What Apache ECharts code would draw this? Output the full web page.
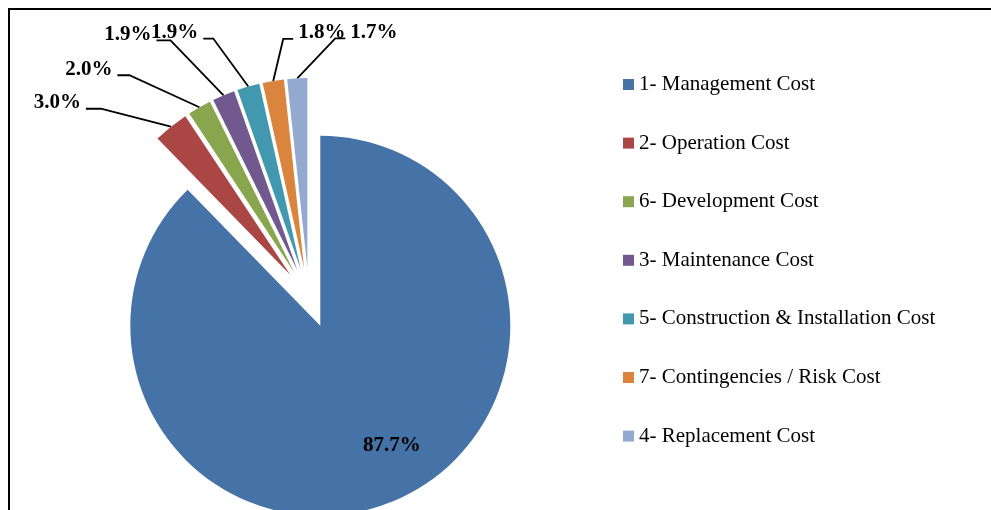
<!DOCTYPE html>
<html>
<head>
<meta charset="utf-8">
<script src="https://cdn.jsdelivr.net/npm/echarts@6/dist/echarts.min.js"></script>
<style>
html,body{margin:0;padding:0;background:#fff;}
#chart{width:991px;height:510px;}
</style>
</head>
<body>
<div id="chart"></div>
<script>
// ---- data ----
var categories = [
  "1- Management Cost",
  "2- Operation Cost",
  "6- Development Cost",
  "3- Maintenance Cost",
  "5- Construction & Installation Cost",
  "7- Contingencies / Risk Cost",
  "4- Replacement Cost"
];
var values = [87.7, 3.0, 2.0, 1.9, 1.9, 1.8, 1.7];
var colors = ["#4572A7", "#AA4643", "#89A54E", "#71588F", "#4198AF", "#DB843D", "#93A9CF"];

// ---- label placement style (elbow offset from slice anchor, horizontal run) ----
var EXPLODE = 30;
var labelElbow = [null, [-70, -18], [-70, -32], [-53, -55], [-35, -48], [10, -42], [38, -40]];
var labelRun = [0, -15, -12, -14, -10, 10, 10];
var innerShift = [46, 57];

var chart = echarts.init(document.getElementById('chart'));
var FONT = '"Liberation Serif", "Times New Roman", serif';
var CENTER = [309, 298];
var RADIUS = 190;

var labelStyle = {
  show: true,
  position: 'outside',
  formatter: function (p) { return p.value.toFixed(1) + '%'; },
  fontFamily: FONT,
  fontSize: 21,
  fontWeight: 'bold',
  color: '#000'
};

var option = {
  animation: false,
  backgroundColor: '#fff',
  color: colors,
  graphic: [{
    type: 'rect',
    shape: { x: 9, y: 9, width: 1100, height: 700 },
    style: { fill: 'none', stroke: '#000', lineWidth: 2 },
    silent: true
  }],
  legend: {
    orient: 'vertical',
    left: 623,
    top: 74,
    padding: 0,
    itemWidth: 11,
    itemHeight: 11,
    itemGap: 37.6,
    icon: 'rect',
    selectedMode: false,
    textStyle: { fontFamily: FONT, fontSize: 21, color: '#000' },
    data: categories
  },
  series: [{
    // exploded slices
    type: 'pie',
    center: CENTER,
    radius: RADIUS,
    startAngle: 90,
    clockwise: true,
    selectedMode: 'multiple',
    selectedOffset: EXPLODE,
    avoidLabelOverlap: false,
    emphasis: { disabled: true },
    label: { show: false },
    labelLine: { show: false },
    data: categories.map(function (c, i) {
      return { name: c, value: values[i], selected: true };
    })
  }, {
    // label carrier (transparent, same geometry)
    type: 'pie',
    center: CENTER,
    radius: RADIUS,
    startAngle: 90,
    clockwise: true,
    silent: true,
    avoidLabelOverlap: false,
    emphasis: { disabled: true },
    itemStyle: { color: 'rgba(0,0,0,0)' },
    label: labelStyle,
    labelLine: {
      show: true,
      length: 10,
      length2: 10,
      lineStyle: { color: '#000', width: 1.8 }
    },
    labelLayout: function (p) {
      var i = p.dataIndex;
      var pts = p.labelLinePoints;
      if (i === 0) {
        return { dx: innerShift[0], dy: innerShift[1] };
      }
      var a0 = pts[0], b0 = pts[1];
      var vx = b0[0] - a0[0], vy = b0[1] - a0[1];
      var len = Math.sqrt(vx * vx + vy * vy) || 1;
      var a = [a0[0] + vx / len * EXPLODE, a0[1] + vy / len * EXPLODE];
      var e = labelElbow[i];
      var bend = [a[0] + e[0], a[1] + e[1]];
      var end = [bend[0] + labelRun[i], bend[1]];
      var side = labelRun[i] < 0 ? -1 : 1;
      return {
        x: end[0] + side * 5,
        y: end[1] - 6,
        align: side < 0 ? 'right' : 'left',
        verticalAlign: 'middle',
        labelLinePoints: [a, bend, end]
      };
    },
    data: categories.map(function (c, i) {
      var d = { name: c, value: values[i] };
      if (i === 0) {
        d.label = { position: 'inside' };
        d.labelLine = { show: false };
      }
      return d;
    })
  }]
};
chart.setOption(option);
</script>
</body>
</html>
